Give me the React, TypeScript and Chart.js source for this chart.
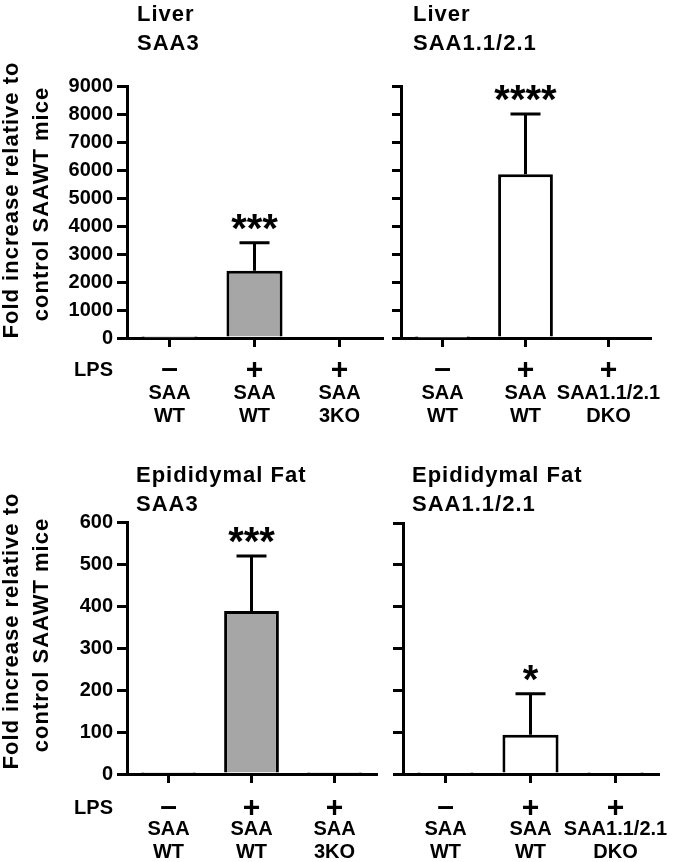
import React, { useEffect, useRef } from "react";
import { Chart, registerables } from "chart.js";

Chart.register(...registerables);

// ---------- data ----------
const LPS_LABEL = "LPS";
const LPS_SIGNS = ["–", "+", "+"];
const GROUPS_SAA3 = [["SAA", "WT"], ["SAA", "WT"], ["SAA", "3KO"]];
const GROUPS_SAA12 = [["SAA", "WT"], ["SAA", "WT"], ["SAA1.1/2.1", "DKO"]];
const Y_TITLE = ["Fold increase relative to", "control SAAWT mice"];

const LIVER_Y_TICKS = [0, 1000, 2000, 3000, 4000, 5000, 6000, 7000, 8000, 9000];
const FAT_Y_TICKS = [0, 100, 200, 300, 400, 500, 600];

const LIVER_SAA3_TITLE = ["Liver", "SAA3"];
const LIVER_SAA3_MEAN = [1, 2400, 0];
const LIVER_SAA3_ERR = [0, 1000, 0];
const LIVER_SAA3_SIG = ["", "***", ""];

const LIVER_SAA12_TITLE = ["Liver", "SAA1.1/2.1"];
const LIVER_SAA12_MEAN = [1, 5850, 0];
const LIVER_SAA12_ERR = [0, 2150, 0];
const LIVER_SAA12_SIG = ["", "****", ""];

const FAT_SAA3_TITLE = ["Epididymal Fat", "SAA3"];
const FAT_SAA3_MEAN = [1, 388, 0.6];
const FAT_SAA3_ERR = [0, 131, 0];
const FAT_SAA3_SIG = ["", "***", ""];

const FAT_SAA12_TITLE = ["Epididymal Fat", "SAA1.1/2.1"];
const FAT_SAA12_MEAN = [1, 94, 0.6];
const FAT_SAA12_ERR = [0, 98, 0];
const FAT_SAA12_SIG = ["", "*", ""];

// ---------- styling ----------
const FONT = "'Liberation Sans', Arial, Helvetica, sans-serif";
const GRAY = "#a6a6a6";
const WHITE = "#ffffff";

type Panel = {
  key: string;
  left: number;
  top: number;
  width: number;
  height: number;
  padLeft: number;
  yWidth: number;
  padRight: number;
  padTop: number;
  xHeight: number;
  title: string[];
  titleX: number;
  titleBaselines: number[];
  groups: string[][];
  mean: number[];
  err: number[];
  sig: string[];
  yTicks: number[];
  showYLabels: boolean;
  fill: string;
  lpsOffset: number;
  showLpsLabel: boolean;
  yTitleCenters: number[] | null;
};

const PANELS: Panel[] = [
  {
    key: "tl", left: 0, top: 0, width: 392, height: 430,
    padLeft: 0, yWidth: 127, padRight: 10, padTop: 86, xHeight: 92,
    title: LIVER_SAA3_TITLE, titleX: 137, titleBaselines: [21, 50],
    groups: GROUPS_SAA3, mean: LIVER_SAA3_MEAN, err: LIVER_SAA3_ERR, sig: LIVER_SAA3_SIG,
    yTicks: LIVER_Y_TICKS, showYLabels: true, fill: GRAY,
    lpsOffset: 31, showLpsLabel: true, yTitleCenters: [200, 204],
  },
  {
    key: "tr", left: 392, top: 0, width: 285, height: 430,
    padLeft: 0, yWidth: 9, padRight: 27, padTop: 86, xHeight: 92,
    title: LIVER_SAA12_TITLE, titleX: 21, titleBaselines: [21, 50],
    groups: GROUPS_SAA12, mean: LIVER_SAA12_MEAN, err: LIVER_SAA12_ERR, sig: LIVER_SAA12_SIG,
    yTicks: LIVER_Y_TICKS, showYLabels: false, fill: WHITE,
    lpsOffset: 31, showLpsLabel: false, yTitleCenters: null,
  },
  {
    key: "bl", left: 0, top: 430, width: 390, height: 432,
    padLeft: 0, yWidth: 127, padRight: 14, padTop: 92, xHeight: 88,
    title: FAT_SAA3_TITLE, titleX: 136, titleBaselines: [52, 81],
    groups: GROUPS_SAA3, mean: FAT_SAA3_MEAN, err: FAT_SAA3_ERR, sig: FAT_SAA3_SIG,
    yTicks: FAT_Y_TICKS, showYLabels: true, fill: GRAY,
    lpsOffset: 33, showLpsLabel: true, yTitleCenters: [201, 205],
  },
  {
    key: "br", left: 390, top: 430, width: 287, height: 432,
    padLeft: 4, yWidth: 9, padRight: 19, padTop: 93, xHeight: 88,
    title: FAT_SAA12_TITLE, titleX: 22, titleBaselines: [52, 81],
    groups: GROUPS_SAA12, mean: FAT_SAA12_MEAN, err: FAT_SAA12_ERR, sig: FAT_SAA12_SIG,
    yTicks: FAT_Y_TICKS, showYLabels: false, fill: WHITE,
    lpsOffset: 33, showLpsLabel: false, yTitleCenters: null,
  },
];

const CAP_HALF = 15;
const STAR_GAP = 21;

function drawCentered(ctx: CanvasRenderingContext2D, text: string, x: number, cy: number) {
  const m = ctx.measureText(text);
  ctx.fillText(text, x, cy + (m.actualBoundingBoxAscent - m.actualBoundingBoxDescent) / 2);
}

function makePlugin(p: Panel) {
  return {
    id: "annot_" + p.key,
    afterDatasetsDraw(chart: any) {
      const ctx: CanvasRenderingContext2D = chart.ctx;
      const ys = chart.scales.y;
      const meta = chart.getDatasetMeta(0);
      ctx.save();
      ctx.strokeStyle = "#000";
      ctx.fillStyle = "#000";
      ctx.lineWidth = 3;
      ctx.lineCap = "butt";
      p.mean.forEach((m, i) => {
        const x = meta.data[i].x;
        const e = p.err[i];
        const yt = ys.getPixelForValue(m + e);
        if (e > 0) {
          const yb = ys.getPixelForValue(m);
          ctx.beginPath();
          ctx.moveTo(x, yb);
          ctx.lineTo(x, yt);
          ctx.moveTo(x - CAP_HALF, yt);
          ctx.lineTo(x + CAP_HALF, yt);
          ctx.stroke();
        }
        if (p.sig[i]) {
          ctx.font = `bold 40px ${FONT}`;
          ctx.textAlign = "center";
          ctx.textBaseline = "alphabetic";
          drawCentered(ctx, p.sig[i], x, yt - STAR_GAP);
        }
      });
      ctx.restore();
    },
    afterDraw(chart: any) {
      const ctx: CanvasRenderingContext2D = chart.ctx;
      const area = chart.chartArea;
      const meta = chart.getDatasetMeta(0);
      ctx.save();
      ctx.fillStyle = "#000";
      // panel titles
      ctx.font = `bold 22px ${FONT}`;
      (ctx as any).letterSpacing = "1px";
      ctx.textAlign = "left";
      ctx.textBaseline = "alphabetic";
      p.title.forEach((t, i) => ctx.fillText(t, p.titleX, p.titleBaselines[i]));
      (ctx as any).letterSpacing = "0px";
      // LPS row
      const cy = area.bottom + p.lpsOffset;
      ctx.font = `bold 30px ${FONT}`;
      ctx.textAlign = "center";
      LPS_SIGNS.forEach((s, i) => drawCentered(ctx, s, meta.data[i].x, cy));
      if (p.showLpsLabel) {
        ctx.font = `bold 20px ${FONT}`;
        ctx.textAlign = "right";
        drawCentered(ctx, LPS_LABEL, area.left - 14, cy);
      }
      // y-axis title
      if (p.yTitleCenters) {
        ctx.font = `bold 22px ${FONT}`;
        (ctx as any).letterSpacing = "1px";
        ctx.textAlign = "center";
        ctx.textBaseline = "middle";
        const xs = [12, 42];
        Y_TITLE.forEach((line, i) => {
          ctx.save();
          ctx.translate(xs[i], p.yTitleCenters![i]);
          ctx.rotate(-Math.PI / 2);
          ctx.fillText(line, 0, 0);
          ctx.restore();
        });
        (ctx as any).letterSpacing = "0px";
      }
      ctx.restore();
    },
  };
}

function PanelChart({ p }: { p: Panel }) {
  const ref = useRef<HTMLCanvasElement>(null);
  useEffect(() => {
    if (!ref.current) return;
    const yMin = p.yTicks[0];
    const yMax = p.yTicks[p.yTicks.length - 1];
    const chart = new Chart(ref.current, {
      type: "bar",
      data: {
        labels: p.groups,
        datasets: [
          {
            data: p.mean,
            backgroundColor: p.fill,
            borderColor: "#000",
            borderWidth: 3,
            barPercentage: 0.66,
            categoryPercentage: 1,
          },
        ],
      },
      options: {
        animation: false,
        responsive: false,
        devicePixelRatio: 1,
        events: [],
        layout: { padding: { left: p.padLeft, right: p.padRight, top: p.padTop, bottom: 0 } },
        plugins: { legend: { display: false }, tooltip: { enabled: false }, title: { display: false } },
        scales: {
          x: {
            type: "category",
            offset: true,
            afterFit: (s: any) => {
              s.height = p.xHeight;
              s.paddingLeft = 0;
              s.paddingRight = 0;
            },
            grid: { display: true, drawOnChartArea: false, drawTicks: true, tickLength: 9, lineWidth: 3, color: "#000", offset: false },
            border: { display: true, width: 3, color: "#000" },
            ticks: {
              maxRotation: 0, minRotation: 0, autoSkip: false, padding: 35, color: "#000",
              font: { family: FONT, size: 20, weight: "bold", lineHeight: 1.15 },
            },
          },
          y: {
            type: "linear",
            min: yMin,
            max: yMax,
            afterFit: (s: any) => {
              s.width = p.yWidth;
              s.paddingTop = 0;
              s.paddingBottom = 0;
            },
            afterBuildTicks: (s: any) => { s.ticks = p.yTicks.map((v) => ({ value: v })); },
            grid: { display: true, drawOnChartArea: false, drawTicks: true, tickLength: 10, lineWidth: 3, color: "#000" },
            border: { display: true, width: 3, color: "#000" },
            ticks: {
              display: p.showYLabels, padding: 4, color: "#000",
              font: { family: FONT, size: 20, weight: "bold" },
              callback: (v: any) => String(v),
            },
          },
        },
      },
      plugins: [makePlugin(p)],
    } as any);
    return () => chart.destroy();
  }, [p]);
  return (
    <canvas
      ref={ref}
      width={p.width}
      height={p.height}
      style={{ position: "absolute", left: p.left, top: p.top, width: p.width, height: p.height, display: "block" }}
    />
  );
}

export default function App() {
  return (
    <div style={{ position: "absolute", left: 0, top: 0, width: 677, height: 862, background: "#fff", overflow: "hidden" }}>
      {PANELS.map((p) => (
        <PanelChart key={p.key} p={p} />
      ))}
    </div>
  );
}
